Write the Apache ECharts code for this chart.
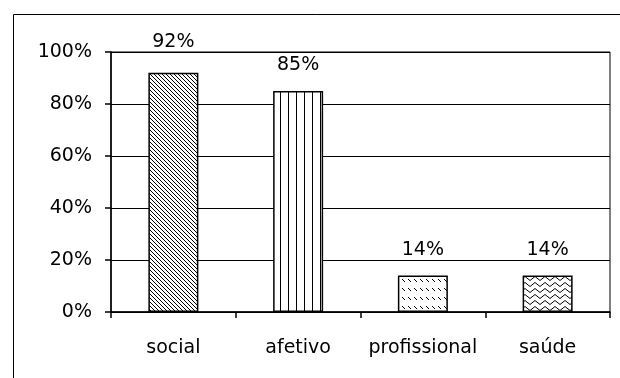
<!DOCTYPE html>
<html>
<head>
<meta charset="utf-8">
<script src="https://cdn.jsdelivr.net/npm/echarts@6/dist/echarts.min.js"></script>
<style>
html,body{margin:0;padding:0;background:#fff;}
#c{width:620px;height:378px;}
</style>
</head>
<body>
<div id="c"></div>
<script>
var categories = ['social', 'afetivo', 'profissional', 'saúde'];
var values = [0.92, 0.85, 0.14, 0.14];
var yTicks = [0, 0.2, 0.4, 0.6, 0.8, 1.0];

function makeTile(w, h, draw) {
  var cv = document.createElement('canvas');
  cv.width = w; cv.height = h;
  var ctx = cv.getContext('2d');
  ctx.fillStyle = '#fff';
  ctx.fillRect(0, 0, w, h);
  ctx.fillStyle = '#000';
  ctx.strokeStyle = '#000';
  draw(ctx);
  return cv;
}
// texture tiles
var tileDiag = makeTile(4, 4, function (c) {
  for (var i = 0; i < 4; i++) c.fillRect(i, i, 1, 1);
});
var tileVert = makeTile(8, 8, function (c) {
  c.fillRect(0, 0, 1, 8);
});
var tileDash = makeTile(6, 9, function (c) {
  c.fillRect(0, 0, 1, 1); c.fillRect(1, 1, 1, 1); c.fillRect(2, 2, 1, 1);
});
var tileWave = makeTile(10, 6, function (c) {
  c.lineWidth = 1;
  c.beginPath();
  c.moveTo(0, 4.5); c.lineTo(5, 0.5); c.lineTo(10, 4.5);
  c.stroke();
});
var tiles = [tileDiag, tileVert, tileDash, tileWave];

var chart = echarts.init(document.getElementById('c'));
var font = '"DejaVu Sans", Verdana, sans-serif';
chart.setOption({
  animation: false,
  backgroundColor: '#fff',
  graphic: [{
    type: 'rect',
    shape: { x: 13.5, y: 14.5, width: 700, height: 500 },
    style: { fill: null, stroke: '#000', lineWidth: 1 },
    silent: true
  }],
  grid: {
    left: 111, right: 10, top: 52, bottom: 66,
    show: true, borderColor: '#000', borderWidth: 1, backgroundColor: 'transparent'
  },
  xAxis: {
    type: 'category',
    data: categories,
    axisLine: { lineStyle: { color: '#000', width: 1.5 } },
    axisTick: { show: true, length: 6, lineStyle: { color: '#000', width: 1.5 } },
    axisLabel: { color: '#000', fontSize: 19, fontFamily: font, margin: 27, interval: 0 }
  },
  yAxis: {
    type: 'value',
    min: 0, max: 1, interval: 0.2,
    axisLine: { show: true, lineStyle: { color: '#000', width: 1.5 } },
    axisTick: { show: true, length: 6, lineStyle: { color: '#000', width: 1.5 } },
    splitLine: { show: true, lineStyle: { color: '#000', width: 1 } },
    axisLabel: {
      color: '#000', fontSize: 19, fontFamily: font, margin: 19,
      formatter: function (v) { return Math.round(v * 100) + '%'; }
    }
  },
  series: [{
    type: 'bar',
    barWidth: 50,
    data: values.map(function (v, i) {
      return {
        value: v,
        itemStyle: { color: { image: tiles[i], repeat: 'repeat' } },
        label: { distance: i === 0 ? 21 : 16 }
      };
    }),
    itemStyle: { borderColor: '#000', borderWidth: 1.5 },
    label: {
      show: true, position: 'top', distance: 16,
      color: '#000', fontSize: 19, fontFamily: font,
      formatter: function (p) { return Math.round(p.value * 100) + '%'; }
    }
  }]
});
</script>
</body>
</html>
